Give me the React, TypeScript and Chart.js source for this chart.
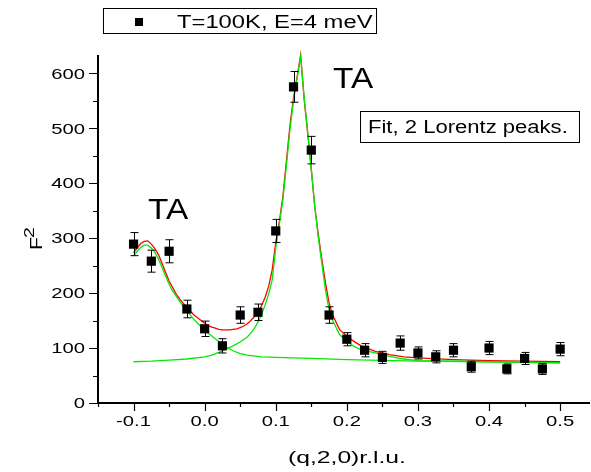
import React, { useEffect, useRef } from 'react';
import { Chart, registerables } from 'chart.js';

Chart.register(...registerables);

// ---- measured data: (q,2,0) r.l.u. vs F^2 ----
const qValues = [-0.1, -0.075, -0.05, -0.025, 0, 0.025, 0.05, 0.075, 0.1, 0.125, 0.15, 0.175, 0.2, 0.225, 0.25, 0.275, 0.3, 0.325, 0.35, 0.375, 0.4, 0.425, 0.45, 0.475, 0.5];
const f2Values = [289, 258, 276, 171, 135, 104, 160, 165, 313, 575, 460, 160, 116, 96, 83, 109, 91, 84, 96, 66, 100, 62, 81, 62, 98];
const f2Errors = [21, 20, 21, 16, 14, 13, 15, 15, 21, 28, 25, 15, 12, 12, 11, 13, 11, 11, 12, 10, 12, 9, 11, 10, 12];

// ---- fit curves ----
const totalFitQ = [-0.1, -0.095, -0.09, -0.085, -0.08, -0.075, -0.07, -0.065, -0.06, -0.055, -0.05, -0.045, -0.04, -0.035, -0.03, -0.025, -0.02, -0.015, -0.01, -0.005, 0, 0.005, 0.01, 0.015, 0.02, 0.025, 0.03, 0.035, 0.04, 0.045, 0.05, 0.055, 0.06, 0.065, 0.07, 0.075, 0.08, 0.085, 0.09, 0.095, 0.1, 0.105, 0.11, 0.115, 0.12, 0.125, 0.13, 0.135, 0.14, 0.145, 0.15, 0.155, 0.16, 0.165, 0.17, 0.175, 0.18, 0.19, 0.2, 0.21, 0.22, 0.24, 0.26, 0.28, 0.3, 0.35, 0.4, 0.45, 0.5];
const totalFitF2 = [273, 282, 290, 294, 295, 289, 281, 270, 254, 238, 222, 210, 198, 189, 181, 174, 167, 160, 155, 150, 145, 141, 138, 136, 134, 133, 133, 133, 134, 135, 137, 140, 144, 150, 157, 165, 177, 192, 212, 242, 292, 330, 375, 440, 505, 555, 593, 633, 552, 490, 425, 356, 305, 260, 218, 182, 160, 133, 122, 112, 104, 94, 88, 84, 82, 79, 77, 76, 75];

const peak1FitQ = [-0.1, -0.095, -0.09, -0.085, -0.08, -0.075, -0.07, -0.065, -0.06, -0.055, -0.05, -0.045, -0.04, -0.035, -0.03, -0.025, -0.02, -0.015, -0.01, -0.005, 0, 0.005, 0.01, 0.015, 0.02, 0.025, 0.03, 0.04, 0.05, 0.06, 0.08, 0.1, 0.15, 0.2, 0.3, 0.4, 0.5];
const peak1FitF2 = [267, 276, 283, 287, 287, 282, 274, 262, 247, 231, 216, 204, 194, 185, 176, 168, 160, 152, 145, 139, 133, 127, 122, 117, 112, 107, 102, 95, 90, 87, 84, 83, 81, 79, 76, 75, 73];

const peak2FitQ = [-0.1, -0.075, -0.05, -0.025, 0, 0.01, 0.02, 0.03, 0.04, 0.05, 0.06, 0.065, 0.07, 0.075, 0.08, 0.085, 0.09, 0.095, 0.1, 0.105, 0.11, 0.115, 0.12, 0.125, 0.13, 0.135, 0.14, 0.145, 0.15, 0.155, 0.16, 0.165, 0.17, 0.175, 0.18, 0.19, 0.2, 0.21, 0.22, 0.24, 0.26, 0.28, 0.3, 0.35, 0.4, 0.45, 0.5];
const peak2FitF2 = [75, 76, 78, 80, 84, 87, 92, 98, 104, 111, 120, 127, 136, 147, 161, 178, 198, 224, 282, 325, 370, 432, 498, 550, 590, 630, 555, 492, 425, 356, 300, 252, 205, 170, 150, 124, 112, 103, 97, 91, 85, 80, 77, 76, 75, 74, 73];

// ---- axes ----
const xMajorTicks = [-0.1, 0.0, 0.1, 0.2, 0.3, 0.4, 0.5];
const xMinorTicks = [-0.15, -0.05, 0.05, 0.15, 0.25, 0.35, 0.45];
const yMajorTicks = [0, 100, 200, 300, 400, 500, 600];
const yMinorTicks = [50, 150, 250, 350, 450, 550];
const xMin = -0.15;
const xMax = 0.542;
const yMin = 0;
const yMax = 633;

const legendLabel = 'T=100K, E=4 meV';
const fitNote = 'Fit, 2 Lorentz peaks.';
const peakLabel = 'TA';
const xTitle = '(q,2,0)r.l.u.';

const FONT = '"Liberation Sans", Arial, Helvetica, sans-serif';

function zip(xs: number[], ys: number[]) {
  return xs.map((x, i) => ({ x, y: ys[i] }));
}

function stretchText(
  ctx: CanvasRenderingContext2D,
  text: string,
  x: number,
  y: number,
  size: number,
  sx: number,
  align: 'left' | 'center' | 'right'
) {
  ctx.save();
  ctx.font = `${size}px ${FONT}`;
  ctx.textBaseline = 'alphabetic';
  ctx.textAlign = 'left';
  const w = ctx.measureText(text).width * sx;
  const x0 = align === 'left' ? x : align === 'center' ? x - w / 2 : x - w;
  ctx.translate(x0, y);
  ctx.scale(sx, 1);
  ctx.fillStyle = '#000';
  ctx.fillText(text, 0, 0);
  ctx.restore();
}

const decorPlugin = {
  id: 'decor',
  afterDatasetsDraw(chart: any) {
    const ctx: CanvasRenderingContext2D = chart.ctx;
    const xs = chart.scales.x;
    const ys = chart.scales.y;
    // error bars
    ctx.save();
    ctx.strokeStyle = '#000';
    ctx.lineWidth = 1;
    qValues.forEach((q, i) => {
      const px = Math.round(xs.getPixelForValue(q)) + 0.5;
      const yTop = ys.getPixelForValue(f2Values[i] + f2Errors[i]);
      const yBot = ys.getPixelForValue(f2Values[i] - f2Errors[i]);
      ctx.beginPath();
      ctx.moveTo(px, yTop);
      ctx.lineTo(px, yBot);
      ctx.moveTo(px - 4, yTop);
      ctx.lineTo(px + 4, yTop);
      ctx.moveTo(px - 4, yBot);
      ctx.lineTo(px + 4, yBot);
      ctx.stroke();
    });
    ctx.restore();
  },
  afterDraw(chart: any) {
    const ctx: CanvasRenderingContext2D = chart.ctx;
    const xs = chart.scales.x;
    const ys = chart.scales.y;
    const area = chart.chartArea;
    ctx.save();
    ctx.strokeStyle = '#000';
    // axis lines
    ctx.lineWidth = 2;
    ctx.beginPath();
    ctx.moveTo(area.left, area.top);
    ctx.lineTo(area.left, area.bottom);
    ctx.lineTo(area.right, area.bottom);
    ctx.stroke();
    // ticks
    ctx.lineWidth = 1.2;
    ctx.beginPath();
    yMajorTicks.forEach((v) => {
      const py = Math.round(ys.getPixelForValue(v)) + 0.5;
      ctx.moveTo(area.left - 9, py);
      ctx.lineTo(area.left, py);
    });
    yMinorTicks.forEach((v) => {
      const py = Math.round(ys.getPixelForValue(v)) + 0.5;
      ctx.moveTo(area.left - 5, py);
      ctx.lineTo(area.left, py);
    });
    xMajorTicks.forEach((v) => {
      const px = Math.round(xs.getPixelForValue(v)) + 0.5;
      ctx.moveTo(px, area.bottom);
      ctx.lineTo(px, area.bottom + 8);
    });
    xMinorTicks.forEach((v) => {
      const px = Math.round(xs.getPixelForValue(v)) + 0.5;
      ctx.moveTo(px, area.bottom);
      ctx.lineTo(px, area.bottom + 4);
    });
    ctx.stroke();
    ctx.restore();

    // tick labels
    yMajorTicks.forEach((v) => {
      const py = ys.getPixelForValue(v);
      stretchText(ctx, String(v), area.left - 13, py + 5.4, 15, 1.35, 'right');
    });
    xMajorTicks.forEach((v) => {
      const px = xs.getPixelForValue(v);
      stretchText(ctx, v.toFixed(1), px, area.bottom + 22.5, 15, 1.35, 'center');
    });

    // axis titles
    stretchText(ctx, xTitle, 347, 463, 17, 1.45, 'center');
    ctx.save();
    ctx.translate(42, 250);
    ctx.rotate(-Math.PI / 2);
    stretchText(ctx, 'F', 0, 0, 17, 1.25, 'left');
    stretchText(ctx, '2', 12, -8, 15, 1.3, 'left');
    ctx.restore();

    // legend box
    ctx.save();
    ctx.strokeStyle = '#000';
    ctx.lineWidth = 1;
    ctx.strokeRect(103.5, 8.5, 273, 25);
    ctx.fillStyle = '#000';
    ctx.fillRect(135, 18, 8, 8);
    ctx.restore();
    stretchText(ctx, legendLabel, 177, 28, 18, 1.32, 'left');

    // peak labels
    stretchText(ctx, peakLabel, xs.getPixelForValue(-0.0797), ys.getPixelForValue(335), 29, 1.15, 'left');
    stretchText(ctx, peakLabel, xs.getPixelForValue(0.1805), ys.getPixelForValue(573), 29, 1.15, 'left');

    // fit note box
    ctx.save();
    ctx.strokeStyle = '#000';
    ctx.lineWidth = 1;
    ctx.strokeRect(360.5, 111.5, 219, 31);
    ctx.restore();
    stretchText(ctx, fitNote, 368, 133.3, 17.5, 1.26, 'left');
  },
};

export default function App() {
  const canvasRef = useRef<HTMLCanvasElement | null>(null);

  useEffect(() => {
    const canvas = canvasRef.current;
    if (!canvas) return;
    const green = 'rgb(0,235,0)';
    const chart = new Chart(canvas, {
      type: 'scatter',
      data: {
        datasets: [
          {
            label: legendLabel,
            data: zip(qValues, f2Values),
            pointStyle: 'rect',
            pointRadius: 6.5,
            pointBackgroundColor: '#000',
            pointBorderWidth: 0,
            showLine: false,
          },
          {
            label: 'peak 1 + background',
            data: zip(peak1FitQ, peak1FitF2),
            showLine: true,
            borderColor: green,
            borderWidth: 1.3,
            pointRadius: 0,
            tension: 0,
            clip: false,
          },
          {
            label: 'peak 2 + background',
            data: zip(peak2FitQ, peak2FitF2),
            showLine: true,
            borderColor: green,
            borderWidth: 1.3,
            pointRadius: 0,
            tension: 0,
            clip: false,
          },
          {
            label: 'total fit',
            data: zip(totalFitQ, totalFitF2),
            showLine: true,
            borderColor: 'rgb(255,0,0)',
            borderWidth: 1.3,
            pointRadius: 0,
            tension: 0,
            clip: false,
          },
        ],
      },
      options: {
        responsive: false,
        animation: false,
        devicePixelRatio: 1,
        layout: { autoPadding: false, padding: { left: 98, top: 55, right: 1, bottom: 69 } },
        plugins: {
          legend: { display: false },
          tooltip: { enabled: false },
          title: { display: false },
        },
        scales: {
          x: { type: 'linear', display: false, min: xMin, max: xMax },
          y: { type: 'linear', display: false, min: yMin, max: yMax },
        },
      },
      plugins: [decorPlugin],
    });
    return () => chart.destroy();
  }, []);

  return (
    <div style={{ position: 'absolute', left: 0, top: 0, width: 591, height: 472, background: '#fff' }}>
      <canvas ref={canvasRef} width={591} height={472} style={{ width: 591, height: 472, display: 'block' }} />
    </div>
  );
}
